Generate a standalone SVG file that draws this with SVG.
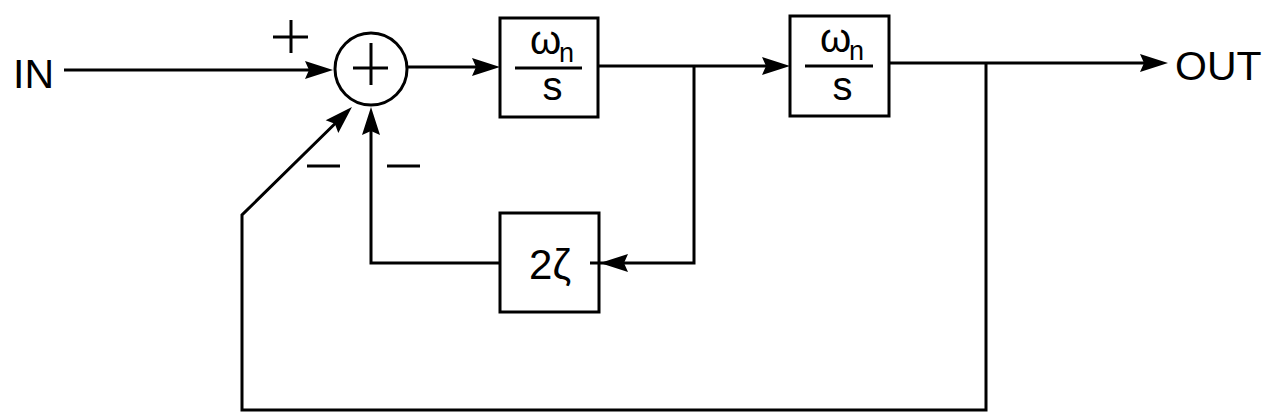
<svg xmlns="http://www.w3.org/2000/svg" width="1266" height="420" viewBox="0 0 1266 420">
<style>
.ln{fill:none;stroke:#000;stroke-width:3;stroke-linejoin:miter}
.bx{fill:none;stroke:#000;stroke-width:3}
.t{font-family:"Liberation Sans",Arial,sans-serif;fill:#000}
.sg{stroke:#000;stroke-width:3;fill:none}
</style>
<defs>
<marker id="arr" viewBox="0 0 28 18" refX="8" refY="9" markerWidth="28" markerHeight="18" markerUnits="userSpaceOnUse" orient="auto" overflow="visible">
<path d="M0,0 L28,9 L0,18 L4,9 z" fill="#000"/>
</marker>
<marker id="arrBack" viewBox="0 0 28 18" refX="38" refY="9" markerWidth="28" markerHeight="18" markerUnits="userSpaceOnUse" orient="auto" overflow="visible">
<path d="M0,0 L28,9 L0,18 L4,9 z" fill="#000"/>
</marker>
</defs>
<rect width="1266" height="420" fill="#fff"/>
<g id="connectors">
<path class="ln" d="M64,70 H313" marker-end="url(#arr)"/>
<path class="ln" d="M407,67 H480" marker-end="url(#arr)"/>
<path class="ln" d="M598,66 H770" marker-end="url(#arr)"/>
<path class="ln" d="M889,63 H1148" marker-end="url(#arr)"/>
<path class="ln" d="M694,66 V263 H590" marker-end="url(#arrBack)"/>
<path class="ln" d="M500,263 H371 V127" marker-end="url(#arr)"/>
<path class="ln" d="M986,63 V410 H242 V215 L337.7,121" marker-end="url(#arr)"/>
</g>
<g id="sum">
<circle cx="371" cy="69" r="36" class="bx"/>
<path class="sg" d="M353,68 H388 M371,43 V85"/>
</g>
<g id="signs">
<path class="sg" d="M273,37 H308 M291,20 V53"/>
<path class="sg" d="M307,166 H340 M387,166 H420"/>
</g>
<g id="in">
<text class="t" x="13" y="88" font-size="41">IN</text>
</g>
<g id="block1">
<rect class="bx" x="500" y="18" width="98" height="99"/>
<text class="t" x="530" y="54" font-size="40">ω</text>
<text class="t" x="559" y="62" font-size="27">n</text>
<path class="sg" d="M515,68 H582"/>
<text class="t" x="552.5" y="100" font-size="40" text-anchor="middle">s</text>
</g>
<g id="block2">
<rect class="bx" x="790" y="16" width="99" height="100"/>
<text class="t" x="820" y="52" font-size="40">ω</text>
<text class="t" x="849" y="60" font-size="27">n</text>
<path class="sg" d="M805,66 H873"/>
<text class="t" x="842.5" y="100" font-size="40" text-anchor="middle">s</text>
</g>
<g id="gain">
<rect class="bx" x="500" y="213" width="99" height="99"/>
<text class="t" x="550" y="279" font-size="42" text-anchor="middle">2ζ</text>
</g>
<g id="out">
<text class="t" x="1175" y="80" font-size="41">OUT</text>
</g>
</svg>
